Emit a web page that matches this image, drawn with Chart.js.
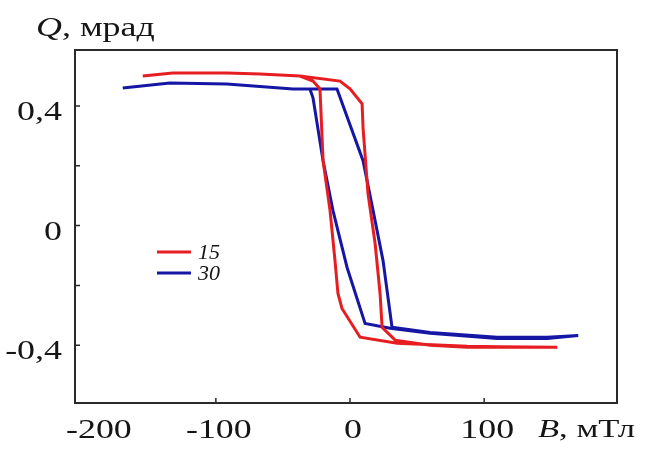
<!DOCTYPE html>
<html>
<head>
<meta charset="utf-8">
<script src="https://cdn.jsdelivr.net/npm/chart.js@4"></script>
<style>
  body { margin: 0; background: #fff; }
  #wrap { width: 645px; height: 450px; }
</style>
</head>
<body>
<div id="wrap"><canvas id="grafico"></canvas></div>
<script>
// Петля 15 (красная): B, мТл и Q, мрад
const b15 = [-154.5, -132.1, -91.8, -67.2, -37.3, -7.5, 0, 9.0, 9.7, 13.4, 18.7, 22.4, 23.9, 33.6, 59.7, 87.3, 154.5,
             111.9, 87.3, 35.1, 7.5, -6.0, -9.0, -11.2, -14.9, -20.1, -22.4, -27.6, -37.3];
const q15 = [0.50, 0.51, 0.51, 0.507, 0.50, 0.483, 0.457, 0.407, 0.327, 0.107, -0.06, -0.227, -0.34, -0.383, -0.40, -0.407, -0.407,
             -0.405, -0.403, -0.393, -0.373, -0.277, -0.227, -0.117, 0.05, 0.217, 0.457, 0.483, 0.50];

// Петля 30 (синяя)
const b30 = [-169.4, -134.3, -91.8, -42.5, -29.9, -9.7, 9.7, 17.2, 24.6, 31.3, 59.7, 109.7, 147.0, 170.1,
             147.0, 109.7, 59.7, 29.9, 11.2, -2.2, -12.7, -20.1, -27.6, -29.9];
const q30 = [0.46, 0.477, 0.473, 0.457, 0.457, 0.457, 0.217, 0.05, -0.117, -0.34, -0.357, -0.373, -0.373, -0.367,
             -0.377, -0.377, -0.36, -0.343, -0.327, -0.14, 0.05, 0.217, 0.427, 0.457];

const xTicks = [-200, -100, 0, 100];
const xTickMarks = [-100, 0, 100];
const yTicks = [-0.4, -0.2, 0, 0.2, 0.4];
const yLabels = [-0.4, 0, 0.4];
const seriesNames = ['15', '30'];

const fonte = '"Liberation Serif", "Times New Roman", serif';
const esticar = 1.33; // o original está esticado na horizontal
const vermelho = 'rgb(230, 30, 34)';
const azul = 'rgb(22, 22, 165)';
const preto = '#151515';

function pontos(xs, ys) {
    let out = [];
    for (let i = 0; i < xs.length; i++) out.push({ x: xs[i], y: ys[i] });
    return out;
}

function rotuloY(v) {
    const r = Math.round(v * 10) / 10;
    if (!yLabels.includes(r)) return '';
    return String(r).replace('.', ',');
}

function largura(ctx, t, fonteCss) {
    ctx.font = fonteCss;
    return ctx.measureText(t).width * esticar;
}

// texto esticado; devolve a largura desenhada
function texto(ctx, t, x, y, fonteCss, alinhar) {
    const w = largura(ctx, t, fonteCss);
    let x0 = x;
    if (alinhar === 'center') x0 = x - w / 2;
    if (alinhar === 'right') x0 = x - w;
    ctx.save();
    ctx.translate(x0, y);
    ctx.scale(esticar, 1);
    ctx.textAlign = 'left';
    ctx.fillText(t, 0, 0);
    ctx.restore();
    return w;
}

// moldura, marcas para dentro, rótulos, legenda e títulos dos eixos
const extras = {
    id: 'extras',
    afterDraw(chart) {
        const ctx = chart.ctx;
        const a = chart.chartArea;
        const sx = chart.scales.x, sy = chart.scales.y;
        ctx.save();
        ctx.strokeStyle = '#2a2a2a';
        ctx.lineWidth = 2;
        ctx.strokeRect(a.left, a.top, a.right - a.left, a.bottom - a.top);
        ctx.beginPath();
        xTickMarks.forEach(v => {
            const px = sx.getPixelForValue(v);
            ctx.moveTo(px, a.bottom);
            ctx.lineTo(px, a.bottom - 5);
        });
        yTicks.forEach(v => {
            const py = sy.getPixelForValue(v);
            ctx.moveTo(a.left, py);
            ctx.lineTo(a.left + 5, py);
        });
        ctx.lineWidth = 1.5;
        ctx.stroke();

        // rótulos dos eixos
        ctx.fillStyle = preto;
        ctx.textBaseline = 'alphabetic';
        const f = '27px ' + fonte;
        sx.ticks.forEach(t => {
            const s = String(t.value);
            const w = largura(ctx, s, f);
            // o primeiro rótulo não passa da margem esquerda
            const cx = Math.max(sx.getPixelForValue(t.value) + 3, 66 + w / 2);
            texto(ctx, s, cx, 438, f, 'center');
        });
        sy.ticks.forEach(t => {
            const r = rotuloY(t.value);
            if (r) texto(ctx, r, 62, sy.getPixelForValue(t.value) + 14, f, 'right');
        });

        // legenda
        const cores = [vermelho, azul];
        ctx.lineWidth = 3;
        seriesNames.forEach((nome, i) => {
            const y = 252 + i * 21;
            ctx.strokeStyle = cores[i];
            ctx.beginPath();
            ctx.moveTo(157, y);
            ctx.lineTo(191, y);
            ctx.stroke();
            ctx.textBaseline = 'middle';
            ctx.font = 'italic 22px ' + fonte;
            ctx.fillText(nome, 198, y + 1);
        });

        // títulos
        ctx.textBaseline = 'alphabetic';
        let w = texto(ctx, 'Q', 36, 36, 'italic 27px ' + fonte, 'left');
        texto(ctx, ', мрад', 36 + w, 36, '27px ' + fonte, 'left');
        w = texto(ctx, 'B', 538, 437, 'italic 26px ' + fonte, 'left');
        texto(ctx, ', мТл', 538 + w, 437, '26px ' + fonte, 'left');
        ctx.restore();
    }
};

const config = {
    type: 'line',
    data: {
        datasets: [
            { label: seriesNames[0], data: pontos(b15, q15), borderColor: vermelho, borderWidth: 3, pointRadius: 0, fill: false, tension: 0 },
            { label: seriesNames[1], data: pontos(b30, q30), borderColor: azul, borderWidth: 3, pointRadius: 0, fill: false, tension: 0 }
        ]
    },
    options: {
        responsive: true,
        maintainAspectRatio: false,
        animation: false,
        layout: { padding: { top: 50, right: 28, left: 0, bottom: 0 } },
        plugins: { legend: { display: false }, tooltip: { enabled: false } },
        scales: {
            x: {
                type: 'linear',
                min: -205,
                max: 199,
                afterBuildTicks: s => { s.ticks = xTicks.map(v => ({ value: v })); },
                afterFit: s => { s.height = 47; },
                grid: { display: false, drawTicks: false },
                border: { display: false },
                ticks: { display: false }
            },
            y: {
                type: 'linear',
                min: -0.593,
                max: 0.587,
                afterBuildTicks: s => { s.ticks = yTicks.map(v => ({ value: v })); },
                afterFit: s => { s.width = 75; },
                grid: { display: false, drawTicks: false },
                border: { display: false },
                ticks: { display: false, callback: rotuloY }
            }
        }
    },
    plugins: [extras]
};

new Chart(document.getElementById('grafico'), config);
</script>
</body>
</html>
